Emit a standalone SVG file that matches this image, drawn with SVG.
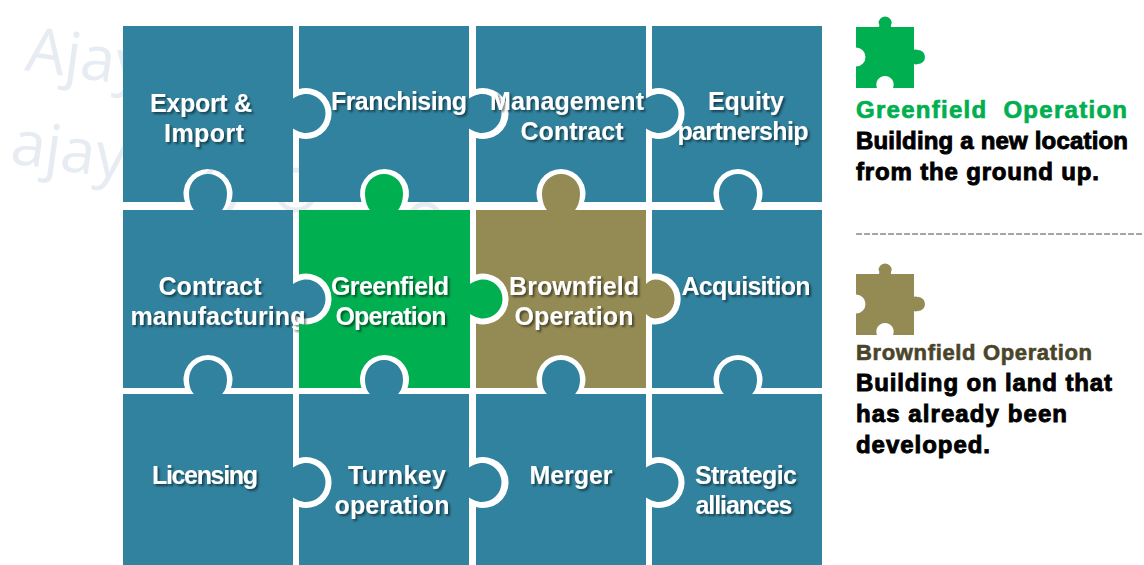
<svg xmlns="http://www.w3.org/2000/svg" width="1144" height="565" viewBox="0 0 1144 565">
<style>
.wm{font-family:"Open Sans","Noto Sans",sans-serif;font-size:62px;fill:#e6ecf2}
.wmf{fill:none;stroke:#e6ecf2;stroke-width:5}
.teal{fill:#31829e}.green{fill:#00af50}.brown{fill:#948a54}
.lbl{font-family:"Liberation Sans",Arial,sans-serif;font-weight:700;font-size:25px;fill:#fff;text-anchor:middle;filter:url(#sh)}
.h{font-family:"Liberation Sans",Arial,sans-serif;font-weight:700;font-size:24px;white-space:pre}
.b{font-family:"Liberation Sans",Arial,sans-serif;font-weight:700;font-size:24px;fill:#000;stroke:#000;stroke-width:.9}
</style>
<defs>
<filter id="sh" x="-10%" y="-20%" width="125%" height="150%"><feDropShadow dx="2" dy="2" stdDeviation="1.2" flood-color="#000" flood-opacity=".5"/></filter>
<path id="legend" d="M856 27H879C880 25 878.500 23 878.500 22.500A6.700 6.700 0 0 1 891.800 22.500C891.800 23 890.500 25 891 27H914V50C916 49 917 50 918 50A7 7 0 0 1 918 64C917 64 916 65 914 64V88H893A8.700 8.700 0 1 0 877 88H856V66.500A9.500 9.500 0 0 0 856 47.500Z"/>
</defs>
<g id="watermark">
<text class="wm" transform="translate(24 70) rotate(8)">Ajay</text>
<text class="wm" transform="translate(9 163) rotate(8)">ajay</text>
<ellipse class="wmf" cx="220" cy="190" rx="16" ry="24"/>
<ellipse class="wmf" cx="296" cy="190" rx="19" ry="20"/>
<ellipse class="wmf" cx="425" cy="226" rx="17" ry="22"/>
</g>
<g id="p1"><path class="teal" d="M123 26H293V98.500c3,-2 8,-4.500 13,-4.500a19.500 19.500 0 0 1 0 39c-5,0 -10,-2.500 -13,-4.500V202H231a24.500 24.500 0 1 0 -46 0H123Z"/><text class="lbl" x="201" y="112" textLength="102">Export &amp;</text><text class="lbl" x="204" y="142" textLength="80">Import</text></g>
<g id="p2"><path class="teal" d="M299 26H469V98.500c3,-2 8,-4.500 13,-4.500a19.500 19.500 0 0 1 0 39c-5,0 -10,-2.500 -13,-4.500V202H407.500a24.500 24.500 0 1 0 -46 0H299V138a25.500 25.500 0 1 0 0 -49Z"/><text class="lbl" x="399" y="110" textLength="136">Franchising</text></g>
<g id="p3"><path class="teal" d="M476 26H646V98.500c3,-2 8,-4.500 13,-4.500a19.500 19.500 0 0 1 0 39c-5,0 -10,-2.500 -13,-4.500V202H584a24.500 24.500 0 1 0 -46 0H476V138a25.500 25.500 0 1 0 0 -49Z"/><text class="lbl" x="567" y="110" textLength="154">Management</text><text class="lbl" x="572" y="140" textLength="103">Contract</text></g>
<g id="p4"><path class="teal" d="M652 26H822V202H761a24.500 24.500 0 1 0 -46 0H652V138a25.500 25.500 0 1 0 0 -49Z"/><text class="lbl" x="746" y="110" textLength="76">Equity</text><text class="lbl" x="743" y="140" textLength="131">partnership</text></g>
<g id="p5"><path class="teal" d="M123 210H194c-2,-2 -5,-8 -5,-17a19 19 0 0 1 38 0c0,9 -3,15 -5,17H293V284c3,-2 8,-4.500 13,-4.500a19.500 19.500 0 0 1 0 39c-5,0 -10,-2.500 -13,-4.500V388H231a24.500 24.500 0 1 0 -46 0H123Z"/><text class="lbl" x="210" y="295" textLength="103">Contract</text><text class="lbl" x="218" y="325" textLength="175">manufacturing</text></g>
<g id="p6"><path class="green" d="M299 210H370c-2,-2 -5,-8 -5,-17a19 19 0 0 1 38 0c0,9 -3,15 -5,17H470V284c3,-2 8,-4.500 13,-4.500a19.500 19.500 0 0 1 0 39c-5,0 -10,-2.500 -13,-4.500V388H407.500a24.500 24.500 0 1 0 -46 0H299V323.500a25.500 25.500 0 1 0 0 -49Z"/><text class="lbl" x="390" y="295" textLength="118">Greenfield</text><text class="lbl" x="391" y="325" textLength="111">Operation</text></g>
<g id="p7"><path class="brown" d="M476 210H547c-2,-2 -5,-8 -5,-17a19 19 0 0 1 38 0c0,9 -3,15 -5,17H646V284c2,-2 5,-4.500 9,-4.500a19.500 19.500 0 0 1 0 39c-4,0 -7,-2.500 -9,-4.500V388H584a24.500 24.500 0 1 0 -46 0H476V323.500a25.500 25.500 0 1 0 0 -49Z"/><text class="lbl" x="574" y="295" textLength="130">Brownfield</text><text class="lbl" x="574" y="325" textLength="119">Operation</text></g>
<g id="p8"><path class="teal" d="M652 210H724c-2,-2 -5,-8 -5,-17a19 19 0 0 1 38 0c0,9 -3,15 -5,17H822V388H761a24.500 24.500 0 1 0 -46 0H652V324.300a25.500 25.500 0 1 0 0 -50.600Z"/><text class="lbl" x="746" y="295" textLength="129">Acquisition</text></g>
<g id="p9"><path class="teal" d="M123 394H194c-2,-2 -5,-6 -5,-15a19 19 0 0 1 38 0c0,9 -3,13 -5,15H293V467.500c3,-2 8,-4.500 13,-4.500a19.500 19.500 0 0 1 0 39c-5,0 -10,-2.500 -13,-4.500V565H123Z"/><text class="lbl" x="205" y="484" textLength="106">Licensing</text></g>
<g id="p10"><path class="teal" d="M299 394H370c-2,-2 -5,-6 -5,-15a19 19 0 0 1 38 0c0,9 -3,13 -5,15H469V467.500c3,-2 8,-4.500 13,-4.500a19.500 19.500 0 0 1 0 39c-5,0 -10,-2.500 -13,-4.500V565H299V507a25.500 25.500 0 1 0 0 -49Z"/><text class="lbl" x="397" y="484" textLength="98">Turnkey</text><text class="lbl" x="392" y="514" textLength="115">operation</text></g>
<g id="p11"><path class="teal" d="M476 394H547c-2,-2 -5,-6 -5,-15a19 19 0 0 1 38 0c0,9 -3,13 -5,15H646V467.500c3,-2 8,-4.500 13,-4.500a19.500 19.500 0 0 1 0 39c-5,0 -10,-2.500 -13,-4.500V565H476V507a25.500 25.500 0 1 0 0 -49Z"/><text class="lbl" x="571" y="484" textLength="83">Merger</text></g>
<g id="p12"><path class="teal" d="M652 394H724c-2,-2 -5,-6 -5,-15a19 19 0 0 1 38 0c0,9 -3,13 -5,15H822V565H652V507a25.500 25.500 0 1 0 0 -49Z"/><text class="lbl" x="746" y="484" textLength="102">Strategic</text><text class="lbl" x="744" y="514" textLength="97">alliances</text></g>
<g id="legend-greenfield">
<use href="#legend" class="green"/>
<text class="h" x="856" y="118" fill="#00af50" stroke="#00af50" stroke-width=".7" textLength="271" lengthAdjust="spacing">Greenfield  Operation</text>
<text class="b" x="856" y="149" textLength="272" lengthAdjust="spacing">Building a new location</text>
<text class="b" x="856" y="180" textLength="243" lengthAdjust="spacing">from the ground up.</text>
</g>
<path id="divider" d="M856 234H1144" fill="none" stroke="#a6a6a6" stroke-width="2" stroke-dasharray="6 2"/>
<g id="legend-brownfield">
<use href="#legend" class="brown" y="247"/>
<text class="h" x="856" y="360" fill="#4a452a" stroke="#4a452a" stroke-width=".6" style="font-size:22px" textLength="236" lengthAdjust="spacing">Brownfield Operation</text>
<text class="b" x="856" y="391" textLength="256" lengthAdjust="spacing">Building on land that</text>
<text class="b" x="856" y="422" textLength="211" lengthAdjust="spacing">has already been</text>
<text class="b" x="856" y="453" textLength="134" lengthAdjust="spacing">developed.</text>
</g>
</svg>
